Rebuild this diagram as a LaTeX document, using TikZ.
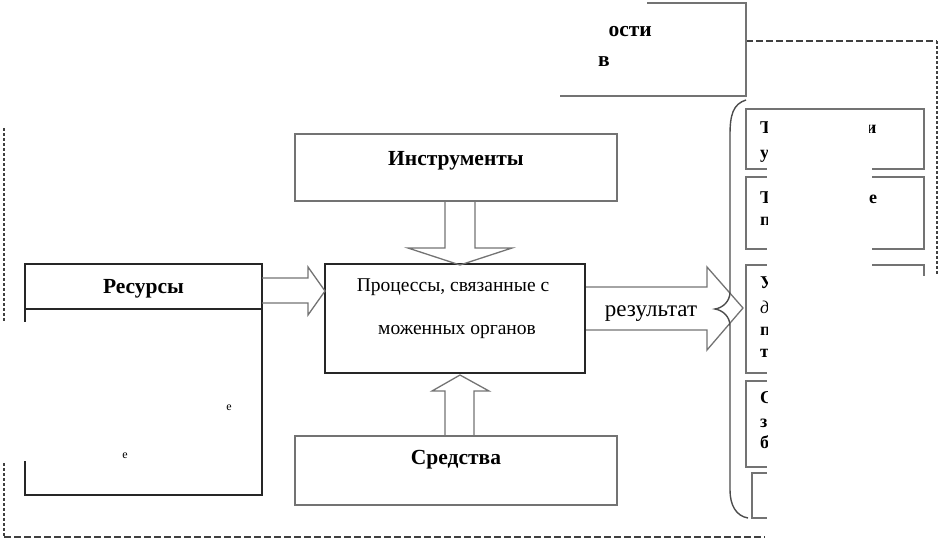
\documentclass[tikz,border=0pt]{standalone}
\usepackage{fontspec}
\setmainfont{Liberation Serif}
\begin{document}
\begin{tikzpicture}[x=1pt,y=-1pt,
  gbox/.style={draw=black!55,line width=1.8pt,fill=white,inner sep=0pt},
  kbox/.style={draw=black!85,line width=1.4pt,fill=white,inner sep=0pt},
  arr/.style={draw=black!55,line width=1.3pt,line join=miter},
  dash1/.style={draw=black!75,line width=2pt,dash pattern=on 6.5pt off 3.5pt},
  dash2/.style={draw=black!75,line width=2pt,dash pattern=on 3pt off 2pt},
  btxt/.style={font=\fontsize{21.5}{24}\selectfont\bfseries,anchor=base,inner sep=0pt},
  rtxt/.style={font=\fontsize{19.5}{22}\selectfont,anchor=base,inner sep=0pt},
  ftxt/.style={font=\fontsize{18}{20}\selectfont\bfseries,anchor=base west,inner sep=0pt},
  wcover/.style={fill=white,draw=none}]
\useasboundingbox (0,0) rectangle (942,542);
% dashed frame pieces
\draw[dash1] (746,41) -- (937,41);
\draw[dash2] (937,41) -- (937,275);
\draw[dash2] (4,128) -- (4,537);
\draw[dash1] (4,537) -- (765,537);
% top (partly hidden) box
\draw[draw=black!55,line width=1.8pt] (647,3) -- (746,3) -- (746,96) -- (560,96);
\begin{scope}
\clip (598,0) rectangle (700,90);
\node[btxt,anchor=base east] (topA) at (652,36) {ости};
\node[btxt,anchor=base east] (topB) at (610,66) {в};
\end{scope}
% main boxes
\node[gbox,minimum width=322pt,minimum height=67pt] (instr) at (456,167.5) {};
\node[btxt] (instrT) at (456,165) {Инструменты};
\node[gbox,minimum width=322pt,minimum height=69pt] (sred) at (456,470.5) {};
\node[btxt] (sredT) at (456,464) {Средства};
\node[kbox,minimum width=260pt,minimum height=109pt] (proc) at (455,318.5) {};
\node[rtxt] (procA) at (453,291) {Процессы, связанные с};
\node[rtxt] (procB) at (457,334) {моженных органов};
\node[kbox,minimum width=237pt,minimum height=231pt] (res) at (143.5,379.5) {};
\draw[draw=black!85,line width=1.4pt] (res.west |- 0,309) -- (res.east |- 0,309);
\node[btxt] (resT) at (143.5,293) {Ресурсы};
\node[font=\fontsize{12}{12}\selectfont,anchor=base,inner sep=0pt] (resF1) at (229,410) {е};
\node[font=\fontsize{12}{12}\selectfont,anchor=base,inner sep=0pt] (resF2) at (125,458) {е};
% block arrows
\draw[arr] (262,278) -- (308,278) -- (308,267) -- (325,291) -- (308,315) -- (308,303) -- (262,303);
\draw[arr] (445,201) -- (445,248) -- (408,248) -- (460,265) -- (512,248) -- (475,248) -- (475,201);
\draw[arr] (445,436) -- (445,391) -- (432,391) -- (460,375) -- (489,391) -- (474,391) -- (474,436);
\draw[arr] (586,287) -- (707,287) -- (707,267) -- (743,308) -- (707,350) -- (707,330) -- (586,330);
\node[font=\fontsize{23}{25}\selectfont,anchor=base,inner sep=0pt] (resu) at (651,316) {результат};
% right boxes
\draw[gbox] (746,109) rectangle (924,169);
\draw[gbox] (746,177) rectangle (924,249);
\draw[gbox] (746,265) rectangle (924,373);
\draw[gbox] (746,381) rectangle (924,467);
\draw[gbox] (752,473) rectangle (924,518);
% brace
\draw[draw=black!70,line width=1.4pt] (746,100) .. controls (733,104) and (730,115) .. (730,135)
  -- (730,292) .. controls (730,302) and (722,308) .. (715,309)
  .. controls (722,310) and (730,316) .. (730,326)
  -- (730,490) .. controls (730,505) and (736,516) .. (748,518);
% hidden areas
\fill[wcover] (0,322) rectangle (27,461);
\fill[wcover] (767,114) rectangle (872,267);
\fill[wcover] (767,276) rectangle (942,542);
% visible fragments of right-box texts
\begin{scope}
\clip (748,112) rectangle (767,470);
\node[ftxt] (fa1) at (760,133) {Т};
\node[ftxt] (fa2) at (760,158) {у};
\node[ftxt] (fb1) at (760,203) {Т};
\node[ftxt] (fb2) at (760,225) {п};
\node[ftxt] (fc1) at (760,288) {У};
\node[ftxt,font=\fontsize{18}{20}\selectfont\itshape] (fc2) at (760,313) {д};
\node[ftxt] (fc3) at (760,335) {п};
\node[ftxt] (fc4) at (760,357) {т};
\node[ftxt] (fd1) at (760,403) {С};
\node[ftxt] (fd2) at (760,427) {з};
\node[ftxt] (fd3) at (760,448) {б};
\end{scope}
\begin{scope}
\clip (869,112) rectangle (900,240);
\node[ftxt] (fa3) at (866,133) {и};
\node[ftxt] (fb3) at (869,203) {е};
\end{scope}
\end{tikzpicture}
\end{document}
